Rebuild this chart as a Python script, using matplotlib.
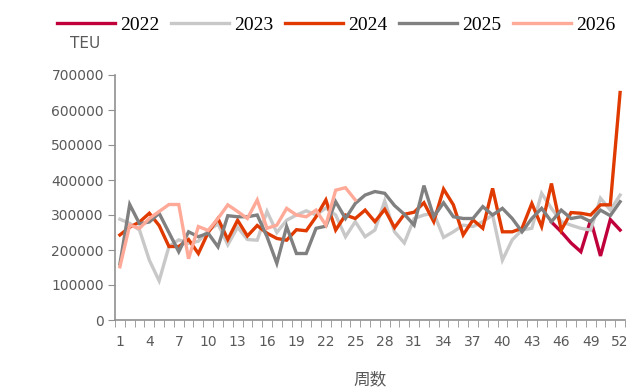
import numpy as np
import matplotlib
matplotlib.use('Agg')
import matplotlib.pyplot as plt

weeks = list(range(1, 53))
nan = np.nan

# TEU per week
y2022 = [nan] * 44 + [280000, 252000, 220000, 195000, 286000, 183000, 287000, 257000]
y2023 = [288000, 276000, 257000, 171000, 112000, 210000, 229000, 219000, 225000, 255000,
         275000, 215000, 265000, 230000, 228000, 310000, 250000, 285000, 300000, 312000,
         300000, 320000, 300000, 238000, 281000, 238000, 257000, 340000, 252000, 220000,
         290000, 300000, 305000, 236000, 252000, 271000, 267000, 281000, 300000, 171000,
         229000, 257000, 262000, 362000, 319000, 281000, 271000, 262000, 257000, 348000,
         314000, 357000]
y2024 = [243000, 265000, 280000, 305000, 270000, 210000, 210000, 230000, 190000, 250000,
         290000, 230000, 285000, 240000, 270000, 248000, 233000, 228000, 258000, 255000,
         295000, 343000, 257000, 300000, 290000, 314000, 281000, 316000, 264000, 302000,
         308000, 335000, 281000, 374000, 329000, 243000, 286000, 262000, 376000, 252000,
         252000, 262000, 333000, 267000, 390000, 257000, 307000, 305000, 300000, 329000,
         329000, 650000]
y2025 = [160000, 330000, 275000, 280000, 305000, 250000, 195000, 252000, 238000, 248000,
         209000, 298000, 295000, 295000, 300000, 238000, 162000, 267000, 190000, 190000,
         262000, 268000, 338000, 290000, 333000, 357000, 367000, 362000, 327000, 302000,
         271000, 384000, 295000, 335000, 295000, 290000, 290000, 324000, 300000, 319000,
         290000, 252000, 290000, 319000, 281000, 314000, 290000, 295000, 281000, 314000,
         298000, 338000]
y2026 = [152000, 271000, 262000, 290000, 310000, 330000, 330000, 175000, 267000, 256000,
         290000, 329000, 310000, 290000, 343000, 262000, 271000, 319000, 300000, 295000,
         314000, 271000, 371000, 378000, 343000] + [nan] * 27

series = [('2022', y2022, '#C0003A'),
          ('2023', y2023, '#C8C8C8'),
          ('2024', y2024, '#E03A00'),
          ('2025', y2025, '#808080'),
          ('2026', y2026, '#FFAA98')]

gray = '#595959'
fig = plt.figure(figsize=(6.4, 3.92), dpi=100)
ax = fig.add_axes([115 / 640, 1 - 320 / 392, 510 / 640, 245 / 392])

for name, vals, col in series:
    ax.plot(weeks, vals, color=col, lw=2.4, label=name, solid_joinstyle='miter')

ax.set_xlim(0.5, 52.5)
ax.set_ylim(0, 700000)
ax.set_yticks(range(0, 700001, 100000))
ax.set_xticks(range(1, 53, 3))
ax.set_xticks(np.arange(0.5, 53, 1), minor=True)
ax.tick_params(axis='x', which='major', length=0, pad=11, labelsize=10, labelcolor=gray)
ax.tick_params(axis='x', which='minor', length=5, color='#909090', direction='out')
ax.tick_params(axis='y', length=5, color='#909090', labelsize=10, labelcolor=gray, pad=3)
for s in ['top', 'right']:
    ax.spines[s].set_visible(False)
for s in ['left', 'bottom']:
    ax.spines[s].set_color('#909090')
    ax.spines[s].set_linewidth(1.2)

ax.set_xlabel('周数', fontsize=12, color=gray, labelpad=16,
              family=['Noto Sans CJK SC', 'DejaVu Sans'])

fig.legend(loc='center', bbox_to_anchor=(0.525, 0.936), ncol=5, frameon=False,
           prop={'family': 'Liberation Serif', 'size': 14},
           handlelength=3.0, handletextpad=0.25, columnspacing=0.6, borderpad=0)
fig.text(85 / 640, 1 - 43 / 392, 'TEU', ha='center', va='center', fontsize=11, color=gray)

fig.savefig('out.png', dpi=100)
